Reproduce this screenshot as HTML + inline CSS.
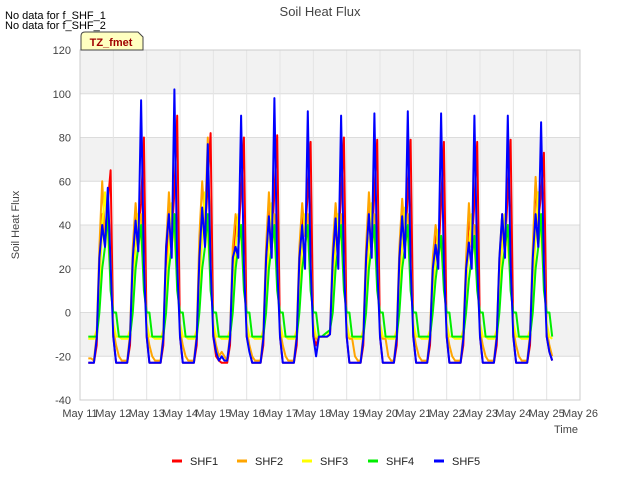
<!DOCTYPE html>
<html><head><meta charset="utf-8"><style>
body{margin:0;background:#fff;font-family:"Liberation Sans",sans-serif;}
text{font-family:"Liberation Sans",sans-serif;}
</style></head><body>
<svg id="chart" width="640" height="480" xmlns="http://www.w3.org/2000/svg">
<rect x="0" y="0" width="640" height="480" fill="#fff"/>
<text x="320" y="16" text-anchor="middle" font-size="13" fill="#444">Soil Heat Flux</text>
<text x="5" y="19" font-size="11" fill="#000">No data for f_SHF_1</text>
<text x="5" y="29" font-size="11" fill="#000">No data for f_SHF_2</text>
<g id="plot"></g>
<g>
<path d="M81,50 L81,36 Q81,32 85,32 L138,32 L143,37 L143,50 Z" fill="#ffffc0" stroke="#444" stroke-width="1"/>
<text x="111" y="46" text-anchor="middle" font-size="11" font-weight="bold" fill="#a00000">TZ_fmet</text>
</g>
<text x="566" y="433" text-anchor="middle" font-size="11" fill="#444">Time</text>
<text x="19" y="225" text-anchor="middle" font-size="11" fill="#444" transform="rotate(-90 19 225)">Soil Heat Flux</text>
<g id="legend"></g>
</svg>
<script>
const yTicks=[-40,-20,0,20,40,60,80,100,120];
const xTickLabels=["May 11","May 12","May 13","May 14","May 15","May 16","May 17","May 18","May 19","May 20","May 21","May 22","May 23","May 24","May 25","May 26"];
const seriesNames=["SHF1","SHF2","SHF3","SHF4","SHF5"];
const seriesColors=["#ff0000","#ffa500","#ffff00","#00ee00","#0000ff"];
const startDay=11.25, stepDays=1/12;
const shf1=[
-23,-23,-23,-15,20,45,35,50,65,
-11,-23,-23,-23,-23,-23,-15,20,45,35,50,80,
-11,-23,-23,-23,-23,-23,-15,20,50,35,55,90,
-11,-23,-23,-23,-23,-23,-15,25,45,35,60,82,
-11,-20,-22,-23,-23,-23,-15,20,40,35,55,80,
-11,-17,-23,-23,-23,-23,-15,20,50,30,55,81,
-11,-23,-23,-23,-23,-23,-15,20,45,35,55,78,
-11,-15,-11,-11,-11,-11,-10,15,40,30,55,80,
-11,-23,-23,-23,-23,-23,-15,20,50,30,55,79,
-11,-23,-23,-23,-23,-23,-15,20,50,30,55,79,
-11,-23,-23,-23,-23,-23,-15,15,38,25,50,78,
-11,-23,-23,-23,-23,-23,-15,15,45,30,50,78,
-11,-23,-23,-23,-23,-23,-15,15,45,30,55,79,
-11,-23,-23,-23,-23,-23,-15,20,60,40,55,73,
-11,-18,-22];
const shf2=[
-21,-21,-22,-10,30,60,35,45,25,
-8,-15,-20,-22,-22,-22,-10,30,50,35,45,25,
-8,-15,-20,-22,-22,-22,-10,30,55,35,45,25,
-8,-15,-20,-22,-22,-22,-10,35,60,40,80,25,
-8,-15,-20,-18,-20,-22,-10,30,45,35,40,25,
-8,-15,-20,-22,-22,-22,-10,30,55,35,45,25,
-8,-15,-20,-22,-22,-22,-10,30,50,35,45,25,
-8,-12,-11,-11,-11,-11,-8,30,50,35,45,25,
-8,-12,-12,-20,-22,-22,-10,30,55,35,45,25,
-8,-12,-12,-20,-22,-22,-10,30,52,35,45,25,
-8,-15,-20,-22,-22,-22,-10,25,40,30,35,20,
-8,-15,-20,-22,-22,-22,-10,25,50,30,40,20,
-8,-15,-20,-22,-22,-22,-10,25,45,30,40,20,
-8,-15,-20,-22,-22,-22,-10,30,62,40,45,25,
-8,-15,-20];
const shf3=[
-12,-12,-12,-8,10,40,55,35,15,
-5,-11,-11,-12,-12,-12,-8,10,30,45,35,15,
-5,-11,-11,-12,-12,-12,-8,10,30,50,35,15,
-5,-11,-11,-12,-12,-12,-8,10,35,55,35,15,
-5,-11,-11,-12,-12,-12,-8,10,30,45,35,15,
-5,-11,-11,-12,-12,-12,-8,10,30,50,35,15,
-5,-11,-11,-12,-12,-12,-8,10,30,45,35,15,
-5,-11,-11,-11,-11,-11,-8,10,30,45,35,15,
-5,-11,-11,-12,-12,-12,-8,10,30,50,35,15,
-5,-11,-11,-12,-12,-12,-8,10,30,48,35,15,
-5,-11,-11,-12,-12,-12,-8,10,25,38,30,15,
-5,-11,-11,-12,-12,-12,-8,10,30,45,30,15,
-5,-11,-11,-12,-12,-12,-8,10,30,45,30,15,
-5,-11,-11,-12,-12,-12,-8,10,35,55,35,15,
-5,-11,-12];
const shf4=[
-11,-11,-11,-11,0,20,30,45,10,
0,0,-11,-11,-11,-11,-11,0,20,30,40,10,
0,0,-11,-11,-11,-11,-11,0,20,30,45,10,
0,0,-11,-11,-11,-11,-11,0,20,30,45,10,
0,0,-11,-11,-11,-11,-11,0,20,30,40,10,
0,0,-11,-11,-11,-11,-11,0,20,30,40,10,
0,0,-11,-11,-11,-11,-11,0,20,30,40,10,
0,0,-11,-11,-10,-9,-8,0,20,30,40,10,
0,0,-11,-11,-11,-11,-11,0,20,30,40,10,
0,0,-11,-11,-11,-11,-11,0,20,30,40,10,
0,0,-11,-11,-11,-11,-11,0,15,25,35,10,
0,0,-11,-11,-11,-11,-11,0,15,25,35,10,
0,0,-11,-11,-11,-11,-11,0,20,30,40,10,
0,0,-11,-11,-11,-11,-11,0,20,30,45,10,
0,0,-11];
const shf5=[
-23,-23,-23,-12,25,40,30,57,22,
-11,-23,-23,-23,-23,-23,-12,25,42,28,97,22,
-11,-23,-23,-23,-23,-23,-12,30,45,25,102,22,
-11,-23,-23,-23,-23,-23,-12,25,48,30,77,22,
-11,-18,-22,-20,-22,-22,-12,25,30,25,90,22,
-11,-18,-23,-23,-23,-23,-12,25,44,25,98,22,
-11,-23,-23,-23,-23,-23,-12,25,40,20,92,22,
-11,-20,-11,-11,-11,-11,-10,25,43,20,90,22,
-11,-23,-23,-23,-23,-23,-12,25,45,25,91,22,
-11,-23,-23,-23,-23,-23,-12,25,44,25,92,22,
-11,-23,-23,-23,-23,-23,-12,20,31,20,91,22,
-11,-23,-23,-23,-23,-23,-12,20,32,20,90,22,
-11,-23,-23,-23,-23,-23,-12,25,45,25,90,22,
-11,-23,-23,-23,-23,-23,-12,25,45,30,87,22,
-11,-18,-22];
const seriesData=[shf1,shf2,shf3,shf4,shf5];

const NS="http://www.w3.org/2000/svg";
const L=80,R=580,T=50,B=400,x0=11,x1=26,y0=-40,y1=120;
function xs(d){return L+(d-x0)/(x1-x0)*(R-L);}
function ys(v){return B-(v-y0)/(y1-y0)*(B-T);}
function mk(tag,attrs,parent){const e=document.createElementNS(NS,tag);for(const k in attrs)e.setAttribute(k,attrs[k]);parent.appendChild(e);return e;}
const plot=document.getElementById('plot');
const bg=mk('rect',{x:L,y:T,width:R-L,height:B-T,fill:'#ffffff'},plot);


for(let i=0;i<yTicks.length-1;i++){
  if(yTicks[i]===-20||yTicks[i]===20||yTicks[i]===60||yTicks[i]===100){
    const b=mk('rect',{x:L,y:ys(yTicks[i+1]),width:R-L,height:ys(yTicks[i])-ys(yTicks[i+1]),fill:'#f2f2f2'},plot);
    
    
  }
}
yTicks.forEach(v=>{
  const g=mk('line',{x1:L,x2:R,y1:ys(v),y2:ys(v),stroke:'#dcdcdc','stroke-width':1},plot);
  
  
  const t=mk('text',{x:71,y:ys(v)+4,'text-anchor':'end','font-size':11,fill:'#444'},plot);
  t.textContent=v;
  
  
});
xTickLabels.forEach((lab,i)=>{
  const x=xs(x0+i);
  const g=mk('line',{x1:x,x2:x,y1:T,y2:B,stroke:'#e4e4e4','stroke-width':1},plot);
  
  
  const t=mk('text',{x:x,y:417,'text-anchor':'middle','font-size':11,fill:'#444'},plot);
  t.textContent=lab;
  
  
});
const ax=mk('rect',{x:L,y:T,width:R-L,height:B-T,fill:'none',stroke:'#cccccc'},plot);


seriesData.forEach((arr,s)=>{
  const pts=arr.map((v,i)=>xs(startDay+i*stepDays).toFixed(1)+','+ys(v).toFixed(1)).join(' ');
  const p=mk('polyline',{points:pts,fill:'none',stroke:seriesColors[s],'stroke-width':2,'stroke-linejoin':'round'},plot);
  
  
});
const lg=document.getElementById('legend');
const lx=[172,237,302,368,434];
seriesNames.forEach((n,i)=>{
  const g=mk('g',{},lg);
  
  
  mk('line',{x1:lx[i],x2:lx[i]+10,y1:461,y2:461,stroke:seriesColors[i],'stroke-width':3},g);
  const t=mk('text',{x:lx[i]+18,y:465,'font-size':11,fill:'#222'},g);
  t.textContent=n;
});
</script>
</body></html>
